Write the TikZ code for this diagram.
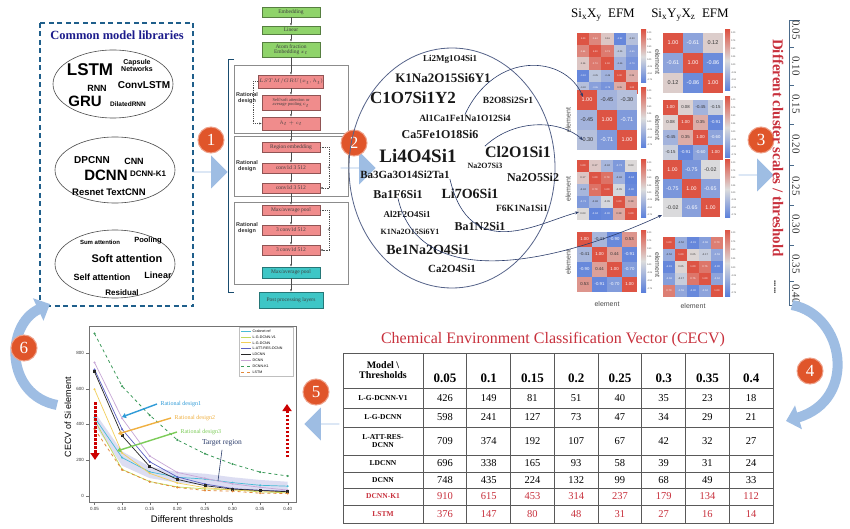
\documentclass[tikz,border=0pt]{standalone}
\usepackage{fontspec}
\setmainfont{Liberation Serif}
\setsansfont{Liberation Sans}
\usetikzlibrary{shapes.arrows,arrows.meta,plotmarks}
\definecolor{libblue}{HTML}{1F5F8B}
\definecolor{titleblue}{HTML}{1C1C8C}
\definecolor{arrowblue}{HTML}{9EBDE3}
\definecolor{numorange}{HTML}{E0552A}
\definecolor{boxgreen}{HTML}{8FD36A}
\definecolor{boxred}{HTML}{F08C8C}
\definecolor{boxteal}{HTML}{3EC6C6}
\definecolor{hmred}{HTML}{DD5444}
\definecolor{hmblue}{HTML}{5A7FDB}
\definecolor{hmmid}{HTML}{DCDCDC}
\definecolor{linknavy}{HTML}{2B3C6B}
\definecolor{tabred}{HTML}{C8303C}
\definecolor{axisblue}{HTML}{4A6A8A}
\definecolor{crabc}{HTML}{48BCD6}
\definecolor{lgvc}{HTML}{C2DA5A}
\definecolor{lgc}{HTML}{F2CF5B}
\definecolor{lattc}{HTML}{5A5FC2}
\definecolor{dcc}{HTML}{C7A6D6}
\definecolor{dkc}{HTML}{3C9A5A}
\definecolor{lsc}{HTML}{E3893A}
\definecolor{rdone}{HTML}{2F9BD8}
\definecolor{rdtwo}{HTML}{F0B040}
\definecolor{rdthree}{HTML}{7CCC58}
\newcommand{\fsz}[1]{\fontsize{#1}{#1}\selectfont}
% heatmap: left, top, cell, font size, rows
\newcommand{\hmap}[5]{%
  \begin{scope}[shift={(#1,#2)}]
    \foreach \hrow [count=\i] in {#5} {
      \foreach \val [count=\j] in \hrow {
        \pgfmathtruncatemacro\pct{min(abs(\val)*100,100)}
        \pgfmathtruncatemacro\isneg{\val<0}
        \ifnum\isneg=1 \def\hcol{hmblue}\else\def\hcol{hmred}\fi
        \ifnum\pct>55 \def\tcol{white}\else\def\tcol{black!80}\fi
        \fill[\hcol!\pct!hmmid] ({(\j-1)*#3},{(\i-1)*#3}) rectangle ++(#3,#3);
        \node[text=\tcol, font=\sffamily\fsz{#4}, inner sep=0pt] at ({(\j-0.5)*#3},{(\i-0.5)*#3}) {\val};
      }
    }
  \end{scope}}
\newcommand{\cbar}[3]{%
  \shade[top color=hmred, bottom color=hmblue, middle color=hmmid] (#1,#2) rectangle ({#1+5},#3);
  \foreach \t [count=\k from 0] in {1.00,0.75,0.50,0.25,0.00,-0.25,-0.50,-0.75}
    \node[anchor=west, font=\sffamily\fsz{2.3}, text=black!70, inner sep=0.3pt] at ({#1+5.5},{#2+3+\k*(#3-#2-6)/7}) {\t};}

\begin{document}
\begin{tikzpicture}[x=1pt, y=-1pt,
  stepnum/.style={circle, fill=numorange, draw=numorange!55!white, line width=1pt, text=white, font=\fsz{17}, minimum size=26pt, inner sep=0pt},
  blockarrow/.style={single arrow, fill=arrowblue, draw=none, minimum height=35pt, minimum width=33pt, single arrow head extend=7pt, inner sep=0pt},
  bigcurve/.style={arrowblue, line width=10pt, -{Triangle[width=24pt,length=13pt]}},
  libword/.style={font=\sffamily\bfseries\fsz{#1}, inner sep=0pt},
  fml/.style={font=\bfseries\fsz{#1}, text=black!90, inner sep=0pt},
  fbox/.style={draw, minimum width=58pt, minimum height=10pt, inner sep=0.5pt, font=\fsz{5.5}, text=black!75, align=center},
  fgreen/.style={fbox, fill=boxgreen, draw=boxgreen!60!black},
  fred/.style={fbox, fill=boxred, draw=boxred!60!black},
  fteal/.style={fbox, fill=boxteal, draw=boxteal!60!black},
  flow/.style={-{Latex[length=2.5pt,width=2pt]}, black!70, line width=0.4pt},
  fback/.style={flow, dash pattern=on 1.2pt off 1pt},
  frame/.style={draw=black!45, line width=0.6pt},
  ratlabel/.style={font=\sffamily\bfseries\fsz{5.5}, align=center, text=black!80, inner sep=0pt},
  link/.style={linknavy, line width=0.6pt, -{Stealth[length=4pt,width=3pt]}},
  hmlabel/.style={font=\sffamily\fsz{7}, text=black!70, inner sep=0pt},
  tabline/.style={black!65, line width=0.7pt},
  tick/.style={font=\sffamily\fsz{4.5}, text=black!80, inner sep=0pt},
  rdarrow/.style={line width=1.4pt, -{Triangle[width=5pt,length=4pt]}},
  reddot/.style={red!80!black, line width=3pt, dash pattern=on 2.5pt off 1.5pt, -{Triangle[width=9pt,length=7pt]}},
  pcrab/.style={crabc, line width=0.7pt},
  plgv/.style={lgvc, line width=0.7pt},
  plg/.style={lgc, line width=0.7pt},
  platt/.style={lattc, line width=0.7pt},
  pld/.style={black!85, line width=0.7pt},
  pdc/.style={dcc, line width=0.7pt},
  pdk/.style={dkc, line width=0.8pt, dashed},
  pls/.style={lsc, line width=0.8pt, dashed}]

\useasboundingbox (0,0) rectangle (850,529);
\fill[white] (0,0) rectangle (850,529);

% libraries
\draw[libblue, line width=1.4pt, dash pattern=on 5pt off 3.5pt] (40,23) rectangle (193,306);
\node[font=\bfseries\fsz{12.5}, text=titleblue] (libtitle) at (117,35) {Common model libraries};
\draw[black!70, line width=0.6pt] (113,84) ellipse (60pt and 34pt);
\draw[black!70, line width=0.6pt] (115,170) ellipse (60pt and 33pt);
\draw[black!70, line width=0.6pt] (115,264) ellipse (60pt and 34pt);
\node[libword=17] (lstm) at (90,70) {LSTM};
\node[libword=7, align=center] (caps) at (137,66) {Capsule\\Networks};
\node[libword=9] (rnn) at (97,88) {RNN};
\node[libword=10] (clstm) at (144,85) {ConvLSTM};
\node[libword=15] (gru) at (85,101) {GRU};
\node[libword=6.5] (drnn) at (128,104) {DilatedRNN};
\node[libword=10] (dpcnn) at (92,160) {DPCNN};
\node[libword=9] (cnn) at (134,161) {CNN};
\node[libword=15] (dcnn) at (106,175) {DCNN};
\node[libword=8] (dcnnk) at (148,174) {DCNN-K1};
\node[libword=9.5] (resnet) at (88,192) {Resnet};
\node[libword=9.5] (tcnn) at (126,192) {TextCNN};
\node[libword=6] (sumatt) at (100,242) {Sum attention};
\node[libword=7.5] (pool) at (148,241) {Pooling};
\node[libword=11] (softatt) at (127,259) {Soft attention};
\node[libword=9] (selfatt) at (102,277) {Self attention};
\node[libword=9] (linear) at (158,275) {Linear};
\node[libword=8] (resid) at (122,293) {Residual};

\node[blockarrow] (ar1) at (210,172) {};
\node[stepnum] (n1) at (211,140) {1};

% network
\draw[frame] (234,65) rectangle (348,133);
\draw[frame] (234,136) rectangle (348,196);
\draw[frame] (234,202) rectangle (348,284);
\draw[libblue!80!black, line width=1pt] (234,60) -- (228,60) -- (228,292) -- (234,292);
\node[fgreen] (emb) at (291,12) {Embedding};
\node[fgreen, minimum height=8pt] (lin) at (291,30) {Linear};
\node[fgreen, minimum height=15pt] (atom) at (291,49.5) {Atom fraction\\Embedding $x_t$};
\node[fred, minimum height=13pt] (rnnbox) at (291,81.5) {$LSTM/GRU(x_t,h_t)$};
\node[fred, minimum height=15pt, font=\fsz{4.5}] (attbox) at (291,102.5) {Self/soft attention or\\average pooling $c_t$};
\node[fred, minimum height=13pt] (hcbox) at (291,123.5) {$h_t+c_t$};
\node[fred] (reg) at (291,147) {Region embedding};
\node[fred] (cva) at (291,168) {conv1d 3 512};
\node[fred] (cvb) at (291,188) {conv1d 3 512};
\node[fred] (mpa) at (291,210) {Max/average pool};
\node[fred] (cvc) at (291,230) {3 conv1d 512};
\node[fred] (cvd) at (291,250) {3 conv1d 512};
\node[fteal, minimum height=11pt] (mpb) at (291,272.5) {Max/average pool};
\node[fteal, minimum width=64pt, minimum height=16pt] (post) at (291,300) {Post processing layers};
\foreach \a/\b in {emb/lin, lin/atom, atom/rnnbox, rnnbox/attbox, attbox/hcbox, hcbox/reg, reg/cva, cva/cvb, cvb/mpa, mpa/cvc, cvc/cvd, cvd/mpb, mpb/post}
  \draw[flow] (\a) -- (\b);
\draw[fback] (rnnbox.west) -- ++(-5,0) |- (hcbox.west);
\draw[fback] (reg.east) -- ++(9,0) |- (cvb.east);
\draw[fback] (mpa.east) -- ++(9,0) |- (cvd.east);
\node[font=\fsz{5}] (plusa) at (329,168) {+};
\node[font=\fsz{5}] (plusb) at (329,230) {+};
\node[ratlabel] (rat1) at (247,98) {Rational\\design};
\node[ratlabel] (rat2) at (247,166) {Rational\\design};
\node[ratlabel] (rat3) at (247,228) {Rational\\design};

\node[blockarrow] (ar2) at (358,168) {};
\node[stepnum] (n2) at (354,143) {2};

% formulas
\draw[linknavy!80, line width=0.8pt] (452,168) ellipse (103pt and 120pt);
\node[fml=9] (li2mg) at (450,59) {Li2Mg1O4Si1};
\node[fml=13] (k1na) at (443,78) {K1Na2O15Si6Y1};
\node[fml=17] (c1o7) at (413,98) {C1O7Si1Y2};
\node[fml=9.5] (b2o8) at (508,100) {B2O8Si2Sr1};
\node[fml=9.5] (alca) at (465,118) {Al1Ca1Fe1Na1O12Si4};
\node[fml=12] (ca5fe) at (440,134) {Ca5Fe1O18Si6};
\node[fml=19] (li4o4) at (418,156) {Li4O4Si1};
\node[fml=16] (cl2o1) at (518,152) {Cl2O1Si1};
\node[fml=8] (na2o7) at (485,166) {Na2O7Si3};
\node[fml=11] (ba3ga) at (405,175) {Ba3Ga3O14Si2Ta1};
\node[fml=12] (na2o5) at (533,177) {Na2O5Si2};
\node[fml=12] (ba1f6) at (398,194) {Ba1F6Si1};
\node[fml=14] (li7o6) at (470,194) {Li7O6Si1};
\node[fml=9.5] (f6k1) at (522,208) {F6K1Na1Si1};
\node[fml=9] (al2f2) at (407,214) {Al2F2O4Si1};
\node[fml=12] (ba1n2) at (480,226) {Ba1N2Si1};
\node[fml=8] (k1nab) at (410,232) {K1Na2O15Si6Y1};
\node[fml=14] (be1na) at (428,250) {Be1Na2O4Si1};
\node[fml=11] (ca2o4) at (452,269) {Ca2O4Si1};

% heatmaps
\node[font=\fsz{13}] (efma) at (603,15) {Si\textsubscript{x}X\textsubscript{y}\ \ EFM};
\node[font=\fsz{13}] (efmb) at (690,15) {Si\textsubscript{x}Y\textsubscript{y}X\textsubscript{z}\ \ EFM};
\hmap{577}{33}{12.2}{2.4}{{1.00,0.64,0.16,-0.92,-0.30},{0.64,1.00,0.73,-0.25,-0.65},{0.16,0.73,1.00,-0.46,-0.79},{-0.92,-0.25,-0.46,1.00,0.35},{-0.30,-0.65,-0.79,0.35,1.00}}
\hmap{663}{33}{20}{5.5}{{1.00,-0.61,0.12},{-0.61,1.00,-0.86},{0.12,-0.86,1.00}}
\hmap{577}{90}{20}{5.5}{{1.00,-0.45,-0.30},{-0.45,1.00,-0.71},{-0.30,-0.71,1.00}}
\hmap{663}{100}{15}{4.3}{{1.00,0.08,-0.45,-0.15},{0.08,1.00,0.35,-0.91},{-0.45,0.35,1.00,-0.60},{-0.15,-0.91,-0.60,1.00}}
\hmap{577}{160}{12}{2.6}{{1.00,0.17,-0.42,-0.73,0.03},{0.17,1.00,0.79,-0.46,-0.94},{-0.42,0.79,1.00,-0.05,-0.90},{-0.73,-0.46,-0.05,1.00,0.38},{0.03,-0.94,-0.90,0.38,1.00}}
\hmap{663}{160}{19}{5.3}{{1.00,-0.75,-0.02},{-0.75,1.00,-0.65},{-0.02,-0.65,1.00}}
\hmap{577}{232}{15}{4.3}{{1.00,-0.41,-0.90,0.53},{-0.41,1.00,0.44,-0.91},{-0.90,0.44,1.00,-0.70},{0.53,-0.91,-0.70,1.00}}
\hmap{663}{237}{12}{2.6}{{1.00,-0.52,-0.91,-0.68,0.70},{-0.52,1.00,0.05,-0.17,-0.59},{-0.91,0.05,1.00,0.76,-0.90},{-0.68,-0.17,0.76,1.00,-0.62},{0.70,-0.59,-0.90,-0.62,1.00}}
\cbar{641}{30}{83}
\cbar{641}{88}{148}
\cbar{641}{160}{218}
\cbar{641}{230}{292}
\cbar{725}{30}{91}
\cbar{725}{97}{158}
\cbar{725}{160}{218}
\cbar{725}{230}{296}
\foreach \yy in {120,189,262}
  \node[hmlabel, rotate=90] at (568,\yy) {element};
\foreach \yy in {62,128,189,265}
  \node[hmlabel, rotate=-90] at (657.5,\yy) {element};
\node[hmlabel] (xla) at (607,304) {element};
\node[hmlabel] (xlb) at (693,306) {element};

\coordinate (hA) at (583,97);
\coordinate (hB) at (583,140);
\coordinate (hC) at (579,212);
\coordinate (hD) at (662,215);
\draw[link] (alca.north) .. controls (495,50) and (565,55) .. (hA);
\draw[link] (cl2o1.north west) .. controls (515,118) and (560,120) .. (hB);
\draw[link] (ba3ga.south east) .. controls (470,265) and (540,222) .. (hC);
\draw[link] (ba1f6.south) .. controls (420,295) and (560,262) .. (hD);

% thresholds
\node[blockarrow] (ar3) at (756,175) {};
\node[stepnum] (n3) at (761,140) {3};
\node[rotate=-90, font=\bfseries\fsz{15}, text=tabred] (diff) at (778,148) {Different cluster scales / threshold};
\draw[axisblue, line width=0.8pt] (800,20) -- (789,20) -- (789,305) -- (800,305);
\foreach \yy in {47,85,124,165,205,245,281}
  \draw[axisblue, line width=0.6pt] (789,\yy) -- (794,\yy);
\foreach \t/\yy in {0.05/30,0.10/66,0.15/104,0.20/144,0.25/186,0.30/224,0.35/264,0.40/294}
  \node[rotate=-90, font=\fsz{11}, text=black!80] at (796,\yy) {\t};
\node[rotate=-90, font=\bfseries\fsz{9}] (dots) at (775,287) {......};

\draw[bigcurve] (792,305) .. controls (845,315) and (858,400) .. (786,421);
\node[stepnum] (n4) at (810,371) {4};

% table
\node[font=\fsz{16}, text=tabred] (cecv) at (553,340) {Chemical Environment Classification Vector (CECV)};
\draw[tabline] (343,353) rectangle (773,523);
\foreach \yy in {388,408,427,455,472,488,505}
  \draw[tabline] (343,\yy) -- (773,\yy);
\foreach \k in {0,...,7}
  \draw[tabline] ({423+43.75*\k},353) -- ({423+43.75*\k},523);
\node[font=\bfseries\fsz{10}, align=center, inner sep=0pt] (hdr) at (383,370.5) {Model \textbackslash\\Thresholds};
\foreach \t [count=\k from 0] in {0.05,0.1,0.15,0.2,0.25,0.3,0.35,0.4}
  \node[font=\bfseries\fsz{13}, inner sep=0pt] at ({444.9+43.75*\k},378) {\t};
\foreach \m/\yy/\cl/\nums in {
  L-G-DCNN-V1/398/black/{426,149,81,51,40,35,23,18},
  L-G-DCNN/417.5/black/{598,241,127,73,47,34,29,21},
  L-ATT-RES-\\DCNN/441/black/{709,374,192,107,67,42,32,27},
  LDCNN/463.5/black/{696,338,165,93,58,39,31,24},
  DCNN/480/black/{748,435,224,132,99,68,49,33},
  DCNN-K1/496.5/tabred/{910,615,453,314,237,179,134,112},
  LSTM/514/tabred/{376,147,80,48,31,27,16,14}} {
  \node[font=\bfseries\fsz{7.5}, text=\cl, align=center, inner sep=0pt] at (383,\yy) {\m};
  \foreach \n [count=\k from 0] in \nums
    \node[font=\fsz{10.5}, text=\cl, inner sep=0pt] at ({444.9+43.75*\k},\yy) {\n};
}

\node[blockarrow, shape border rotate=180] (ar5) at (322,424) {};
\node[stepnum] (n5) at (316,392) {5};

% plot
\draw[black!55, line width=0.5pt] (89,326) rectangle (296,502);
\foreach \v/\yy in {0/496,200/460,400/424,600/389,800/353} {
  \draw[black!55] (89,\yy) -- (86,\yy);
  \node[tick, anchor=east] at (84,\yy) {\v};
}
\foreach \t [count=\k from 0] in {0.05,0.10,0.15,0.20,0.25,0.30,0.35,0.40} {
  \draw[black!55] ({94.5+27.6*\k},502) -- ({94.5+27.6*\k},505);
  \node[tick] at ({94.5+27.6*\k},509) {\t};
}
\node[rotate=90, font=\sffamily\fsz{9}] (ylab) at (68,417) {CECV of Si element};
\node[font=\sffamily\fsz{9.5}] (xlab) at (192,519) {Different thresholds};
\begin{scope}[shift={(94.5,496)}, x=27.6pt, y=0.1785pt]
  \fill[lattc!35, opacity=0.6] (0,470) -- (1,250) -- (2,165) -- (3,135) -- (4,125) -- (5,105) -- (6,90) -- (7,80) -- (7,30) -- (6,35) -- (5,45) -- (4,60) -- (3,75) -- (2,100) -- (1,170) -- (0,400) -- cycle;
  \draw[pcrab] plot[mark=*, mark size=0.6pt] coordinates {(0,440) (1,215) (2,135) (3,105) (4,95) (5,75) (6,60) (7,55)};
  \draw[plgv] plot[mark=*, mark size=0.6pt] coordinates {(0,426) (1,149) (2,81) (3,51) (4,40) (5,35) (6,23) (7,18)};
  \draw[plg] plot[mark=*, mark size=0.6pt] coordinates {(0,598) (1,241) (2,127) (3,73) (4,47) (5,34) (6,29) (7,21)};
  \draw[platt] plot[mark=*, mark size=0.6pt] coordinates {(0,709) (1,374) (2,192) (3,107) (4,67) (5,42) (6,32) (7,27)};
  \draw[pdc] plot[mark=*, mark size=0.6pt] coordinates {(0,748) (1,435) (2,224) (3,132) (4,99) (5,68) (6,49) (7,33)};
  \draw[pld] plot[mark=square*, mark size=1pt] coordinates {(0,696) (1,338) (2,165) (3,93) (4,58) (5,39) (6,31) (7,24)};
  \draw[pdk] plot[mark=*, mark size=0.6pt, mark options={solid}] coordinates {(0,910) (1,615) (2,453) (3,314) (4,237) (5,179) (6,134) (7,112)};
  \draw[pls] plot[mark=*, mark size=0.6pt, mark options={solid}] coordinates {(0,376) (1,147) (2,80) (3,48) (4,31) (5,27) (6,16) (7,14)};
\end{scope}
\draw[black!25, fill=white] (239,327) rectangle (293,376);
\foreach \nm/\st [count=\k from 0] in {Crabnet ref/pcrab, L-G-DCNN-V1/plgv, L-G-DCNN/plg, L-ATT-RES-DCNN/platt, LDCNN/pld, DCNN/pdc, DCNN-K1/pdk, LSTM/pls} {
  \draw[\st] (241,{331+5.9*\k}) -- (251,{331+5.9*\k});
  \node[anchor=west, font=\sffamily\fsz{3.6}, inner sep=0.5pt] at (252,{331+5.9*\k}) {\nm};
}
\node[font=\fsz{6}, text=rdone, anchor=west] (rd1) at (157,404) {Rational design1};
\node[font=\fsz{6}, text=rdtwo, anchor=west] (rd2) at (171,418) {Rational design2};
\node[font=\fsz{6}, text=rdthree, anchor=west] (rd3) at (177,432) {Rational design3};
\coordinate (rd1end) at (122,417);
\coordinate (rd2end) at (118,434);
\coordinate (rd3end) at (117,451);
\draw[rdarrow, rdone] (rd1.west) -- (rd1end);
\draw[rdarrow, rdtwo] (rd2.west) -- (rd2end);
\draw[rdarrow, rdthree] (rd3.west) -- (rd3end);
\node[font=\fsz{7.5}, text=linknavy] (tgt) at (222,443) {Target region};
\coordinate (tgtend) at (218,481);
\draw[linknavy, line width=0.6pt] (tgt.south) -- (tgtend);
\coordinate (dnA) at (95,402);
\coordinate (dnB) at (95,460);
\coordinate (upA) at (287,457);
\coordinate (upB) at (287,404);
\draw[reddot] (dnA) -- (dnB);
\draw[reddot] (upA) -- (upB);

\draw[bigcurve] (57,405) .. controls (5,395) and (5,325) .. (50,304);
\node[stepnum] (n6) at (24,348) {6};
\end{tikzpicture}
\end{document}
